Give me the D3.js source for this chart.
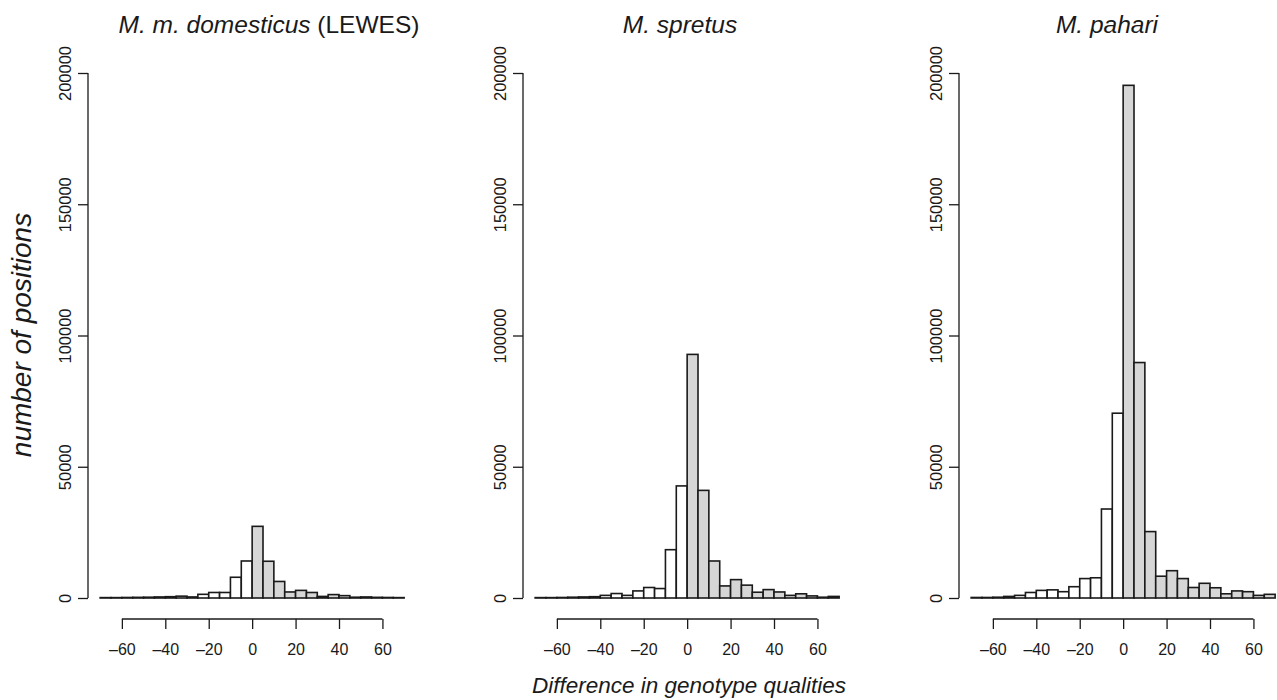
<!DOCTYPE html>
<html>
<head>
<meta charset="utf-8">
<script src="https://cdn.jsdelivr.net/npm/d3@7"></script>
<style>
  body { margin: 0; background: #fff; }
  text { font-family: "Liberation Sans", Arial, sans-serif; fill: #1a1a1a; }
</style>
</head>
<body>
<svg id="main-svg" width="1277" height="700"></svg>
<script>
// bin left edges (width 5)
const binStarts = [-70, -65, -60, -55, -50, -45, -40, -35, -30, -25, -20, -15, -10, -5,
                   0, 5, 10, 15, 20, 25, 30, 35, 40, 45, 50, 55, 60, 65];

// counts per bin
const domesticus = [150, 150, 200, 250, 300, 400, 500, 700, 400, 1400, 2100, 2100, 7900, 14100,
                    27300, 14000, 6300, 2300, 2900, 2100, 600, 1300, 900, 300, 400, 250, 200, 150];
const spretus = [150, 150, 200, 300, 400, 500, 1000, 1700, 1000, 2700, 4000, 3600, 18400, 42700,
                 92800, 41000, 14100, 4600, 7000, 4900, 2200, 3200, 2300, 1000, 1600, 800, 300, 600];
const pahari = [200, 200, 300, 600, 1000, 2100, 2900, 3100, 2400, 4300, 7400, 7700, 33900, 70400,
                195300, 89700, 25300, 8300, 10400, 7400, 4000, 5600, 3900, 1600, 2700, 2400, 1000, 1400];

const xTicks = [-60, -40, -20, 0, 20, 40, 60];
const yTicks = [0, 50000, 100000, 150000, 200000];

const panels = [
    { title: ['M. m. domesticus', ' (LEWES)'], counts: domesticus, left: 88, titleX: 269 },
    { title: ['M. spretus', ''], counts: spretus, left: 523, titleX: 680 },
    { title: ['M. pahari', ''], counts: pahari, left: 959, titleX: 1107 },
];

const svg = d3.select('#main-svg');

const y = d3.scaleLinear().domain([0, 200000]).range([598, 73]);
const axisY = 619;
const fmtMinus = d => (d < 0 ? '\u2013' + Math.abs(d) : String(d));

panels.forEach(p => {
    const x = d3.scaleLinear().domain([-75.6, 75.6]).range([p.left, p.left + 328.3]);
    const g = svg.append('g');

    // bars
    g.selectAll('rect')
        .data(binStarts.map((s, i) => ({ s, v: p.counts[i] })))
        .enter()
        .append('rect')
        .attr('x', d => x(d.s))
        .attr('width', d => x(d.s + 5) - x(d.s))
        .attr('y', d => y(d.v))
        .attr('height', d => y(0) - y(d.v))
        .attr('fill', d => (d.s < 0 ? '#ffffff' : '#d6d6d6'))
        .attr('stroke', '#1a1a1a')
        .attr('stroke-width', 1.6);

    // x axis
    const xa = g.append('g').attr('transform', `translate(0,${axisY})`)
        .call(d3.axisBottom(x).tickValues(xTicks).tickSize(10).tickPadding(0).tickFormat(fmtMinus));
    xa.select('.domain').attr('d', `M${x(-60)},0H${x(60)}`).attr('stroke', '#1a1a1a').attr('stroke-width', 1.3);
    xa.selectAll('.tick line').attr('stroke', '#1a1a1a').attr('stroke-width', 1.3);
    xa.selectAll('.tick text').attr('y', 36).attr('dy', null)
        .style('font-size', '16px').style('font-family', '"Liberation Sans", Arial, sans-serif');

    // y axis
    const ya = g.append('g').attr('transform', `translate(${p.left},0)`)
        .call(d3.axisLeft(y).tickValues(yTicks).tickSize(10).tickFormat(d3.format('d')));
    ya.select('.domain').attr('d', `M0,${y(0)}V${y(200000)}`).attr('stroke', '#1a1a1a').attr('stroke-width', 1.3);
    ya.selectAll('.tick line').attr('stroke', '#1a1a1a').attr('stroke-width', 1.3);
    ya.selectAll('.tick text')
        .attr('x', null).attr('dy', null)
        .attr('transform', 'translate(-17,0) rotate(-90)')
        .attr('text-anchor', 'middle')
        .style('font-size', '16.5px').style('font-family', '"Liberation Sans", Arial, sans-serif');

    // title
    const t = g.append('text')
        .attr('x', p.titleX).attr('y', 33)
        .attr('text-anchor', 'middle')
        .style('font-size', '24.5px');
    t.append('tspan').style('font-style', 'italic').text(p.title[0]);
    if (p.title[1]) t.append('tspan').text(p.title[1]);
});

// axis titles
svg.append('text')
    .attr('x', 689).attr('y', 693)
    .attr('text-anchor', 'middle')
    .style('font-size', '22.5px').style('font-style', 'italic')
    .text('Difference in genotype qualities');

svg.append('text')
    .attr('transform', 'translate(31,335) rotate(-90)')
    .attr('text-anchor', 'middle')
    .style('font-size', '28px').style('font-style', 'italic')
    .text('number of positions');
</script>
</body>
</html>
